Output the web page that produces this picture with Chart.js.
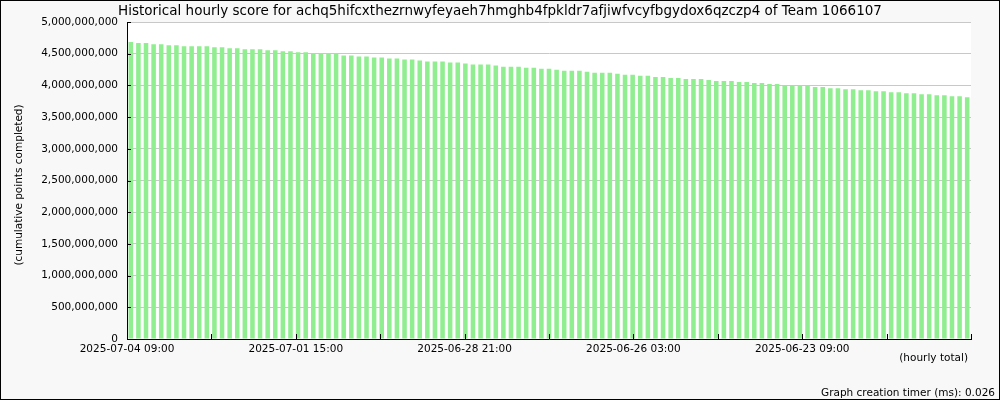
<!DOCTYPE html>
<html>
<head>
<meta charset="utf-8">
<script src="https://cdn.jsdelivr.net/npm/chart.js@4/dist/chart.umd.min.js"></script>
<style>
	html, body { margin: 0; padding: 0; background: #f8f8f8; }
	canvas { display: block; }
</style>
</head>
<body>
<canvas id="score-chart" width="1000" height="400"></canvas>
<script>
const chartTitle = 'Historical hourly score for achq5hifcxthezrnwyfeyaeh7hmghb4fpkldr7afjiwfvcyfbgydox6qzczp4 of Team 1066107'
const yTitle = '(cumulative points completed)'
const xTitle = '(hourly total)'
const footer = 'Graph creation timer (ms): 0.026'

// hours back from the first bar, one tick every 33 hours, a label every 66
const tickLabels = ['2025-07-04 09:00', '2025-07-01 15:00', '2025-06-28 21:00', '2025-06-26 03:00', '2025-06-23 09:00']
const hourSpan = 330
const tickStep = 33

const scores = [
	4683000000, 4667000000, 4667000000, 4651000000, 4651000000, 4634000000, 4634000000, 4618000000, 4618000000, 4618000000,
	4618000000, 4602000000, 4602000000, 4586000000, 4586000000, 4570000000, 4570000000, 4570000000, 4554000000, 4554000000,
	4538000000, 4538000000, 4522000000, 4522000000, 4505000000, 4505000000, 4505000000, 4505000000,
	4473000000, 4473000000, 4457000000, 4457000000, 4441000000, 4441000000, 4425000000, 4425000000, 4409000000, 4409000000,
	4392000000, 4376000000, 4376000000, 4376000000, 4360000000, 4360000000, 4344000000, 4328000000, 4328000000, 4328000000,
	4312000000, 4296000000, 4296000000, 4296000000, 4280000000, 4280000000, 4263000000, 4263000000,
	4247000000, 4231000000, 4231000000, 4231000000, 4215000000, 4199000000, 4199000000, 4199000000, 4183000000, 4167000000,
	4167000000, 4151000000, 4151000000, 4134000000, 4134000000, 4118000000, 4118000000, 4102000000, 4102000000, 4102000000,
	4086000000, 4070000000, 4070000000, 4070000000, 4054000000, 4054000000, 4038000000, 4038000000,
	4022000000, 4022000000, 4005000000, 4005000000, 3989000000, 3989000000, 3973000000, 3973000000, 3957000000, 3957000000,
	3941000000, 3941000000, 3925000000, 3925000000, 3909000000, 3909000000, 3893000000, 3893000000, 3876000000, 3876000000,
	3860000000, 3860000000, 3844000000, 3844000000, 3828000000, 3828000000, 3812000000
]
const categories = scores.map((s, i) => 'bar ' + (i + 1))

const frame = {
	id: 'frame',
	beforeDraw: (chart) => {
		const ctx = chart.ctx
		const a = chart.chartArea
		ctx.save()
		ctx.fillStyle = '#f8f8f8'
		ctx.fillRect(0, 0, chart.width, chart.height)
		ctx.fillStyle = '#ffffff'
		ctx.fillRect(a.left, a.top, a.right - a.left, a.bottom - a.top)
		ctx.restore()
	},
	afterDraw: (chart) => {
		const ctx = chart.ctx
		const a = chart.chartArea
		const y = chart.scales.y
		const xt = chart.scales.xt
		ctx.save()
		ctx.strokeStyle = '#000'
		ctx.lineWidth = 1
		ctx.beginPath()
		y.ticks.forEach((t) => {
			const py = Math.round(y.getPixelForValue(t.value)) + 0.5
			ctx.moveTo(a.left, py)
			ctx.lineTo(a.left + 4, py)
		})
		xt.ticks.forEach((t) => {
			const px = Math.round(xt.getPixelForValue(t.value)) + 0.5
			ctx.moveTo(px, a.bottom)
			ctx.lineTo(px, a.bottom - 5)
		})
		ctx.stroke()

		ctx.fillStyle = '#000'
		ctx.font = '13.5px "DejaVu Sans"'
		ctx.textAlign = 'center'
		ctx.textBaseline = 'middle'
		ctx.fillText(chartTitle, 500, 11)

		ctx.font = '10.5px "DejaVu Sans"'
		ctx.textAlign = 'right'
		ctx.fillText(xTitle, 968, 358)
		ctx.fillText(footer, 995, 393)

		ctx.translate(19, 185)
		ctx.rotate(-Math.PI / 2)
		ctx.textAlign = 'center'
		ctx.fillText(yTitle, 0, 0)
		ctx.restore()

		ctx.save()
		ctx.strokeStyle = '#000'
		ctx.strokeRect(0.5, 0.5, chart.width - 1, chart.height - 1)
		ctx.restore()
	}
}

const config = {
	type: 'bar',
	data: {
		labels: categories,
		datasets: [{
			label: 'score',
			data: scores,
			backgroundColor: '#90ee90',
			categoryPercentage: 1,
			barPercentage: 0.6
		}]
	},
	options: {
		responsive: false,
		animation: false,
		devicePixelRatio: 1,
		layout: { padding: { top: 22, right: 29, bottom: 0, left: 0 } },
		plugins: {
			legend: { display: false },
			tooltip: { enabled: false }
		},
		scales: {
			x: {
				type: 'category',
				display: false,
				offset: true
			},
			xt: {
				type: 'linear',
				position: 'bottom',
				min: 0,
				max: hourSpan,
				offset: false,
				afterFit: (scale) => { scale.height = 61 },
				border: { display: true, color: '#000', width: 1 },
				grid: { offset: false, drawOnChartArea: false, drawTicks: false },
				ticks: {
					stepSize: tickStep,
					autoSkip: false,
					maxRotation: 0,
					padding: 4,
					color: '#000',
					font: { family: 'DejaVu Sans', size: 10.5 },
					callback: (v) => (v % (tickStep * 2) === 0 ? tickLabels[v / (tickStep * 2)] || '' : '')
				}
			},
			y: {
				min: 0,
				max: 5000000000,
				afterFit: (scale) => { scale.width = 127 },
				border: { display: true, color: '#000', width: 1 },
				grid: { color: '#c8c8c8', drawTicks: false },
				ticks: {
					stepSize: 500000000,
					padding: 9,
					color: '#000',
					font: { family: 'DejaVu Sans', size: 10.5 },
					callback: (v) => v.toLocaleString('en-US')
				}
			}
		}
	},
	plugins: [frame]
}

const ctx = document.querySelector('#score-chart').getContext('2d')
const scoreChart = new Chart(ctx, config)
</script>
</body>
</html>
